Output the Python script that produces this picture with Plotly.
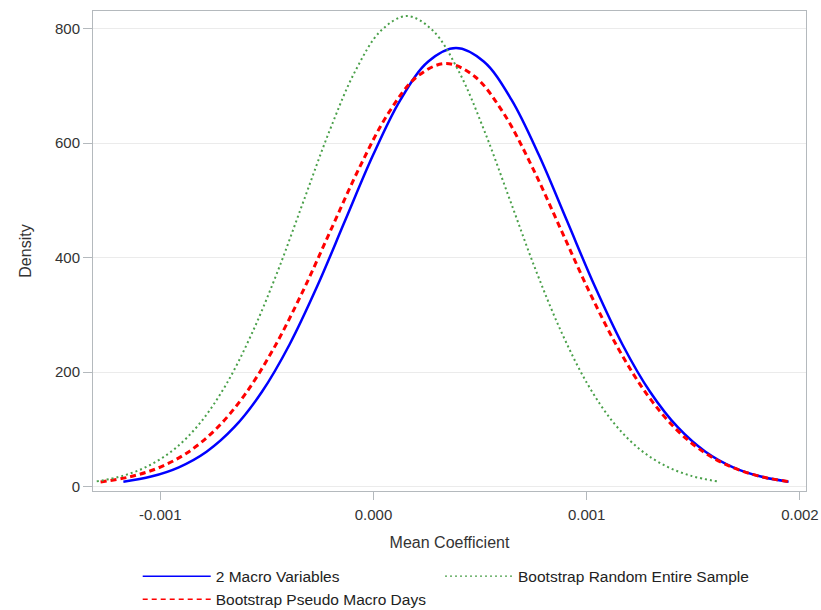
import plotly.graph_objects as go

# Values (x = mean coefficient, y = density)
macro_x = [-0.001173, -0.001043, -0.000913, -0.000783, -0.000653, -0.000523, -0.000393,
           -0.000263, -0.000133, -0.000003, 0.000127, 0.000257, 0.000387, 0.000517,
           0.000647, 0.000777, 0.000907, 0.001037, 0.001167, 0.001297, 0.001427,
           0.001557, 0.001687, 0.001817, 0.001947]
macro_y = [8.5, 17.5, 33.7, 60.9, 103.7, 165.7, 248.7, 350.7, 464.6, 578.2, 676.0, 742.4,
           766.0, 742.4, 676.0, 578.2, 464.6, 350.7, 248.7, 165.7, 103.7, 60.9, 33.7, 17.5, 8.5]

pseudo_x = [-0.00128, -0.001145, -0.00101, -0.000875, -0.00074, -0.000605, -0.00047,
            -0.000335, -0.0002, -0.000065, 0.00007, 0.000205, 0.00034, 0.000475,
            0.00061, 0.000745, 0.00088, 0.001015, 0.00115, 0.001285, 0.00142,
            0.001555, 0.00169, 0.001825, 0.00196]
pseudo_y = [8.2, 16.8, 32.5, 58.8, 100.0, 159.8, 239.9, 338.3, 448.2, 557.8, 652.2, 716.3,
            739.0, 716.3, 652.2, 557.8, 448.2, 338.3, 239.9, 159.8, 100.0, 58.8, 32.5, 16.8, 8.2]

random_x = [-0.001298, -0.001177, -0.001056, -0.000934, -0.000813, -0.000692, -0.000571,
            -0.000449, -0.000328, -0.000207, -0.000086, 0.000036, 0.000157, 0.000278,
            0.0004, 0.000521, 0.000642, 0.000763, 0.000885, 0.001006, 0.001127,
            0.001248, 0.00137, 0.001491, 0.001612]
random_y = [9.1, 18.7, 36.1, 65.4, 111.2, 177.8, 266.9, 376.3, 498.6, 620.5, 725.4, 796.7,
            822.0, 796.7, 725.4, 620.5, 498.6, 376.3, 266.9, 177.8, 111.2, 65.4, 36.1, 18.7, 9.1]

series_names = ["2 Macro Variables", "Bootstrap Pseudo Macro Days", "Bootstrap Random Entire Sample"]
x_ticks = [-0.001, 0.0, 0.001, 0.002]
x_tick_labels = ["-0.001", "0.000", "0.001", "0.002"]
y_ticks = [0, 200, 400, 600, 800]

FONT = "Liberation Sans, Arial, sans-serif"
BLUE, RED, GREEN = "#0000ff", "#ff0000", "#4aa04a"

fig = go.Figure()
# data curves (legend drawn with thin-line entries below)
fig.add_trace(go.Scatter(x=macro_x, y=macro_y, mode="lines", name=series_names[0], showlegend=False,
                         line=dict(color=BLUE, width=2.5, shape="spline")))
fig.add_trace(go.Scatter(x=pseudo_x, y=pseudo_y, mode="lines", name=series_names[1], showlegend=False,
                         line=dict(color=RED, width=3, dash="6px,4px", shape="spline")))
fig.add_trace(go.Scatter(x=random_x, y=random_y, mode="lines", name=series_names[2], showlegend=False,
                         line=dict(color=GREEN, width=2, dash="2px,3px", shape="spline")))
# legend entries (two legend columns, like the reference)
fig.add_trace(go.Scatter(x=[None], y=[None], mode="lines", name=series_names[0], legend="legend",
                         line=dict(color=BLUE, width=1.5)))
fig.add_trace(go.Scatter(x=[None], y=[None], mode="lines", name=series_names[1], legend="legend",
                         line=dict(color=RED, width=1.5, dash="5px,4px")))
fig.add_trace(go.Scatter(x=[None], y=[None], mode="lines", name=series_names[2], legend="legend2",
                         line=dict(color=GREEN, width=1.2, dash="2px,3px")))

legend_style = dict(font=dict(family=FONT, size=15.5, color="#222222"), itemwidth=68,
                    tracegroupgap=0, bgcolor="rgba(0,0,0,0)", orientation="v",
                    xanchor="left", yanchor="top", y=-0.143)

fig.update_layout(
    width=821, height=610,
    margin=dict(l=93, r=15, t=11, b=119, autoexpand=False),
    paper_bgcolor="white", plot_bgcolor="white",
    font=dict(family=FONT, size=15, color="#333333"),
    showlegend=True,
    legend=dict(x=0.0627, **legend_style),
    legend2=dict(x=0.4867, **legend_style),
    xaxis=dict(range=[-0.0013155, 0.0020286], tickvals=x_ticks, ticktext=x_tick_labels,
               showgrid=False, zeroline=False, showline=True, mirror=True,
               linecolor="#b4b9bd", linewidth=1, ticks="outside", ticklen=8,
               tickcolor="#b4b9bd", ticklabelstandoff=2, ticklabeloverflow="allow",
               tickfont=dict(size=15, color="#333333"),
               title=dict(text="Mean Coefficient", font=dict(size=16, color="#333333"), standoff=14)),
    yaxis=dict(range=[-7.7, 830.7], tickvals=y_ticks,
               showgrid=True, gridcolor="#ebebeb", gridwidth=1, zeroline=False,
               showline=True, mirror=True, linecolor="#b4b9bd", linewidth=1,
               ticks="outside", ticklen=9, tickcolor="#b4b9bd",
               tickfont=dict(size=15, color="#333333"),
               title=dict(text="Density", font=dict(size=16, color="#333333"), standoff=19)),
)

# remove the browser's default 8px page margin so the figure fills the window
fig.write_html("out.html", config={"displayModeBar": False},
               post_script="document.body.style.margin='0px';")
